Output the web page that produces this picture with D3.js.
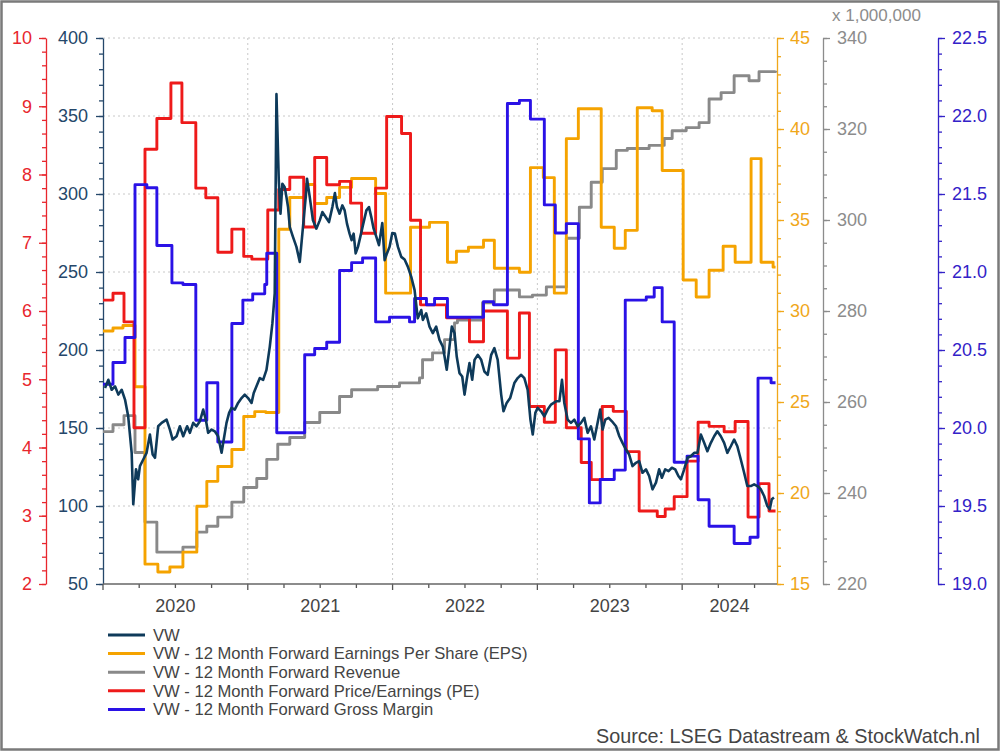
<!DOCTYPE html>
<meta charset="utf-8">
<head>
  <title>VW - 12 month forward estimates</title>
</head>
<script src="https://d3js.org/d3.v7.min.js"></script>
<style>
  body { margin: 0; background: #fff; }
  svg text { font-family: "Liberation Sans", Arial, sans-serif; }
</style>
<div id="chart"></div>
<script>

// ---- data (decimal year, value) ----
var years = [2020, 2021, 2022, 2023, 2024];

var vwPrice = [
  [2020.014,175.6],[2020.037,180.9],[2020.060,174.5],[2020.083,176.7],[2020.106,171.4],[2020.129,174.5],[2020.152,168.2],[2020.174,157.5],
  [2020.198,134.1],[2020.209,101.1],[2020.228,123.5],[2020.243,117.1],[2020.255,125.6],[2020.278,129.8],[2020.301,134.1],[2020.324,145.8],
  [2020.343,133.0],[2020.359,130.9],[2020.381,151.1],[2020.405,153.3],[2020.439,155.4],[2020.462,149.0],[2020.481,142.6],[2020.508,144.7],
  [2020.531,151.1],[2020.554,144.7],[2020.581,151.1],[2020.600,146.9],[2020.623,153.3],[2020.646,151.1],[2020.669,154.3],[2020.692,161.8],
  [2020.710,155.4],[2020.726,146.9],[2020.750,149.0],[2020.772,147.9],[2020.795,144.7],[2020.819,134.1],[2020.834,142.6],[2020.853,153.3],
  [2020.871,159.7],[2020.888,162.9],[2020.910,161.8],[2020.933,166.1],[2020.957,169.2],[2020.979,171.4],[2021.002,169.2],[2021.026,166.1],
  [2021.041,172.4],[2021.060,176.7],[2021.083,182.0],[2021.106,180.9],[2021.129,187.3],[2021.152,202.2],[2021.170,217.2],[2021.186,236.3],
  [2021.198,364.0],[2021.214,308.7],[2021.226,287.4],[2021.239,306.6],[2021.255,304.4],[2021.267,298.0],[2021.278,291.6],[2021.290,278.8],
  [2021.312,272.5],[2021.336,266.1],[2021.359,256.5],[2021.381,278.8],[2021.400,298.0],[2021.409,309.8],[2021.428,298.0],[2021.450,283.1],
  [2021.474,277.8],[2021.497,283.1],[2021.515,288.4],[2021.538,285.2],[2021.561,282.0],[2021.584,291.6],[2021.602,300.6],[2021.616,291.6],
  [2021.634,287.4],[2021.653,292.7],[2021.669,289.5],[2021.685,281.0],[2021.703,274.6],[2021.717,270.4],[2021.731,274.6],[2021.745,261.9],
  [2021.761,266.1],[2021.777,272.5],[2021.795,279.9],[2021.819,289.5],[2021.837,291.6],[2021.853,285.2],[2021.869,277.8],[2021.888,272.5],
  [2021.906,267.2],[2021.929,281.4],[2021.945,257.6],[2021.961,261.9],[2021.979,266.1],[2021.998,275.0],[2022.016,274.6],[2022.037,266.1],
  [2022.060,259.7],[2022.083,258.0],[2022.106,253.3],[2022.129,246.9],[2022.152,238.4],[2022.174,220.3],[2022.198,225.6],[2022.209,219.3],
  [2022.232,223.5],[2022.255,215.0],[2022.278,210.8],[2022.301,215.0],[2022.324,206.5],[2022.347,202.2],[2022.359,195.8],[2022.374,187.3],
  [2022.393,202.2],[2022.409,215.0],[2022.428,210.8],[2022.443,195.8],[2022.462,185.2],[2022.481,183.0],[2022.497,171.4],[2022.512,180.9],
  [2022.531,191.6],[2022.550,180.9],[2022.566,193.7],[2022.588,196.9],[2022.612,193.7],[2022.634,186.2],[2022.657,184.1],[2022.681,196.9],
  [2022.703,201.2],[2022.726,193.7],[2022.750,171.4],[2022.766,160.7],[2022.788,166.1],[2022.812,169.2],[2022.841,178.8],[2022.864,182.0],
  [2022.888,184.1],[2022.910,182.0],[2022.933,174.5],[2022.952,155.4],[2022.968,145.8],[2022.986,159.7],[2023.002,162.9],[2023.026,160.7],
  [2023.048,157.5],[2023.071,161.8],[2023.094,165.0],[2023.129,167.1],[2023.152,167.1],[2023.170,180.9],[2023.186,166.1],[2023.209,155.4],
  [2023.232,153.3],[2023.255,155.4],[2023.278,151.1],[2023.301,153.3],[2023.324,156.5],[2023.347,146.9],[2023.370,151.1],[2023.393,142.6],
  [2023.416,153.3],[2023.434,161.8],[2023.450,149.0],[2023.469,155.4],[2023.492,156.5],[2023.515,154.3],[2023.543,151.1],[2023.566,144.7],
  [2023.588,140.5],[2023.612,136.2],[2023.634,133.0],[2023.657,125.6],[2023.681,127.7],[2023.703,128.8],[2023.726,121.3],[2023.750,123.5],
  [2023.772,119.2],[2023.795,110.7],[2023.819,115.0],[2023.841,123.5],[2023.860,118.1],[2023.883,123.5],[2023.906,122.4],[2023.929,124.5],
  [2023.952,123.5],[2023.974,119.2],[2023.991,117.1],[2024.014,123.5],[2024.037,130.9],[2024.060,131.9],[2024.083,134.1],[2024.106,134.1],
  [2024.129,145.8],[2024.152,140.5],[2024.174,135.1],[2024.198,140.5],[2024.221,144.7],[2024.243,147.9],[2024.267,144.7],[2024.290,140.5],
  [2024.312,134.1],[2024.336,138.3],[2024.359,142.6],[2024.381,138.3],[2024.405,129.8],[2024.428,121.3],[2024.450,112.8],[2024.474,112.8],
  [2024.497,113.9],[2024.519,112.8],[2024.543,110.7],[2024.566,106.4],[2024.588,100.0],[2024.605,97.9],[2024.619,104.3],[2024.634,105.4]
];

// the estimate series move in steps: each pair = start of a level
var epsFwd = [
  [2020.000,28.90],[2020.069,29.07],[2020.138,29.20],[2020.221,25.84],[2020.290,16.09],[2020.379,15.66],[2020.462,15.93],[2020.552,16.75],
  [2020.648,19.27],[2020.717,20.64],[2020.793,21.46],[2020.890,22.39],[2020.972,24.20],[2021.048,24.47],[2021.124,24.42],[2021.214,34.49],
  [2021.290,36.24],[2021.400,36.95],[2021.462,35.91],[2021.545,36.24],[2021.634,36.79],[2021.717,37.28],[2021.883,36.46],[2021.952,30.98],
  [2022.124,34.60],[2022.255,34.87],[2022.379,32.68],[2022.441,33.28],[2022.524,33.50],[2022.628,33.89],[2022.703,32.35],[2022.876,32.13],
  [2022.952,37.88],[2023.041,37.33],[2023.117,30.98],[2023.200,39.47],[2023.283,41.11],[2023.441,34.60],[2023.531,33.45],[2023.607,34.43],
  [2023.690,41.17],[2023.793,41.00],[2023.862,37.72],[2024.007,31.70],[2024.097,30.77],[2024.186,32.24],[2024.283,33.56],[2024.366,32.68],
  [2024.476,38.37],[2024.545,32.68],[2024.628,32.41],[2024.645,32.41]
];

var revenueFwd = [
  [2020.000,253.5],[2020.069,255.0],[2020.145,257.0],[2020.221,248.9],[2020.290,233.6],[2020.372,227.0],[2020.552,228.1],[2020.648,231.4],
  [2020.717,232.7],[2020.793,234.7],[2020.890,238.0],[2020.972,241.2],[2021.062,243.2],[2021.131,247.4],[2021.207,250.7],[2021.290,252.2],
  [2021.393,255.5],[2021.497,257.7],[2021.634,261.2],[2021.717,262.7],[2021.897,263.4],[2022.048,264.2],[2022.186,265.3],[2022.207,269.3],
  [2022.276,270.8],[2022.359,273.7],[2022.428,277.4],[2022.448,278.0],[2022.621,281.8],[2022.703,284.6],[2022.876,283.1],[2022.966,283.5],
  [2023.062,285.3],[2023.200,296.0],[2023.290,302.8],[2023.372,308.3],[2023.448,311.3],[2023.545,315.3],[2023.621,315.7],[2023.772,316.4],
  [2023.876,317.9],[2023.931,319.6],[2024.028,320.3],[2024.117,321.4],[2024.186,326.6],[2024.269,328.0],[2024.359,331.7],[2024.462,330.6],
  [2024.531,332.6],[2024.645,332.8]
];

var peFwd = [
  [2020.000,6.16],[2020.069,6.26],[2020.145,5.84],[2020.214,4.29],[2020.290,8.37],[2020.372,8.82],[2020.469,9.34],[2020.545,8.76],
  [2020.641,7.80],[2020.710,7.66],[2020.793,6.86],[2020.890,7.20],[2020.972,6.80],[2021.028,6.76],[2021.138,7.48],[2021.214,7.78],
  [2021.290,7.96],[2021.386,7.23],[2021.462,8.25],[2021.545,7.85],[2021.634,7.90],[2021.710,7.58],[2021.786,7.14],[2021.883,7.80],
  [2021.959,8.85],[2022.062,8.60],[2022.124,7.33],[2022.193,6.09],[2022.372,5.90],[2022.531,5.55],[2022.628,6.00],[2022.793,5.31],
  [2022.876,5.97],[2022.945,4.60],[2023.048,4.37],[2023.124,5.43],[2023.200,4.29],[2023.303,3.78],[2023.372,3.53],[2023.448,4.60],
  [2023.524,4.53],[2023.614,3.94],[2023.703,3.07],[2023.828,2.99],[2023.883,3.10],[2023.945,3.28],[2024.034,3.80],[2024.110,4.37],
  [2024.186,4.31],[2024.290,4.23],[2024.366,4.38],[2024.455,2.98],[2024.531,3.47],[2024.600,3.07],[2024.645,3.07]
];

var marginFwd = [
  [2020.000,20.28],[2020.069,20.42],[2020.152,20.58],[2020.221,21.56],[2020.303,21.54],[2020.372,21.17],[2020.476,20.93],[2020.552,20.92],
  [2020.641,20.05],[2020.717,20.29],[2020.793,19.91],[2020.890,20.67],[2020.966,20.82],[2021.034,20.86],[2021.117,20.92],[2021.131,21.12],
  [2021.200,19.97],[2021.393,20.47],[2021.462,20.51],[2021.545,20.55],[2021.634,21.01],[2021.717,21.06],[2021.793,21.09],[2021.883,20.68],
  [2021.979,20.71],[2022.117,20.68],[2022.152,20.83],[2022.234,20.79],[2022.290,20.83],[2022.379,20.71],[2022.628,20.81],[2022.697,20.79],
  [2022.793,22.08],[2022.876,22.10],[2022.952,21.98],[2023.048,21.43],[2023.124,21.25],[2023.200,21.31],[2023.283,19.93],[2023.359,19.52],
  [2023.434,19.67],[2023.531,19.73],[2023.607,20.82],[2023.752,20.84],[2023.807,20.90],[2023.862,20.68],[2023.945,19.78],[2024.034,19.82],
  [2024.110,19.54],[2024.186,19.37],[2024.359,19.26],[2024.469,19.30],[2024.524,20.32],[2024.614,20.29],[2024.645,20.29]
];

// tick labels per axis
var peTicks = [2, 3, 4, 5, 6, 7, 8, 9, 10];
var vwTicks = [50, 100, 150, 200, 250, 300, 350, 400];
var epsTicks = [15, 20, 25, 30, 35, 40, 45];
var revTicks = [220, 240, 260, 280, 300, 320, 340];
var gmTicks = [19.0, 19.5, 20.0, 20.5, 21.0, 21.5, 22.0, 22.5];

var legendNames = [
  "VW",
  "VW - 12 Month Forward Earnings Per Share (EPS)",
  "VW - 12 Month Forward Revenue",
  "VW - 12 Month Forward Price/Earnings (PE)",
  "VW - 12 Month Forward Gross Margin"
];

// ---- layout ----
var width = 1000, height = 751;
var plotL = 103, plotR = 777, plotT = 38, plotB = 584;

var colVW = "#0e3a5a", colEPS = "#f5a300", colRev = "#898989", colPE = "#ee1a1a", colGM = "#2a12e6";

var svg = d3.select("#chart").append("svg")
  .attr("width", width)
  .attr("height", height);

svg.append("rect").attr("width", width).attr("height", height).attr("fill", "#fff");

// scales
var x = d3.scaleLinear().domain([2020, 2024.655]).range([plotL, plotR]);
var yVW = d3.scaleLinear().domain([50, 400]).range([plotB, plotT]);
var yPE = d3.scaleLinear().domain([2, 10]).range([plotB, plotT]);
var yEPS = d3.scaleLinear().domain([15, 45]).range([plotB, plotT]);
var yRev = d3.scaleLinear().domain([220, 340]).range([plotB, plotT]);
var yGM = d3.scaleLinear().domain([19, 22.5]).range([plotB, plotT]);

// gridlines (dotted)
svg.append("g")
  .selectAll("line")
  .data(vwTicks.slice(1))
  .enter().append("line")
    .attr("x1", plotL).attr("x2", plotR)
    .attr("y1", function(d) { return yVW(d); })
    .attr("y2", function(d) { return yVW(d); })
    .attr("stroke", "#c8c8c8")
    .attr("stroke-dasharray", "2,3");

svg.append("g")
  .selectAll("line")
  .data(years.slice(1))
  .enter().append("line")
    .attr("x1", function(d) { return x(d); })
    .attr("x2", function(d) { return x(d); })
    .attr("y1", plotT).attr("y2", plotB)
    .attr("stroke", "#c8c8c8")
    .attr("stroke-dasharray", "2,3");

// y axis helper: major ticks with labels + minor ticks
function yAxis(scale, pos, side, color, ticks, minorStep, fmt, pad) {
  var axisFn = side == "left" ? d3.axisLeft : d3.axisRight;
  var g = svg.append("g")
    .attr("transform", "translate(" + pos + ",0)")
    .attr("color", color);
  var d0 = scale.domain()[0], d1 = scale.domain()[1];
  var minor = d3.range(0, Math.round((d1 - d0) / minorStep) + 1).map(function(i) { return d0 + i * minorStep; });
  g.append("g")
    .call(axisFn(scale).tickValues(minor).tickSize(4).tickSizeOuter(0).tickFormat(""))
    .select(".domain").remove();
  g.append("g")
    .call(axisFn(scale).tickValues(ticks).tickSize(7).tickSizeOuter(0).tickPadding(pad).tickFormat(fmt))
    .attr("font-size", 18)
    .attr("font-family", "Liberation Sans, Arial, sans-serif");
  g.selectAll("line, path").attr("stroke-width", 1.3);
}

yAxis(yPE, 46, "left", "#e8262d", peTicks, 0.2, d3.format("d"), 7);
yAxis(yVW, plotL, "left", "#25476a", vwTicks, 10, d3.format("d"), 8);
yAxis(yEPS, plotR, "right", "#f0a71a", epsTicks, 1, d3.format("d"), 6);
yAxis(yRev, 823, "right", "#8c8c8c", revTicks, 5, d3.format("d"), 7);
yAxis(yGM, 938, "right", "#3322c8", gmTicks, 0.1, d3.format(".1f"), 7);

svg.append("text")
  .attr("x", 832).attr("y", 21)
  .attr("fill", "#8c8c8c")
  .style("font-size", "17px")
  .text("x 1,000,000");

// bottom time axis
var xAxisG = svg.append("g");
var quarters = d3.range(0, 19).map(function(i) { return 2020 + i * 0.25; });
xAxisG.selectAll("line.q")
  .data(quarters)
  .enter().append("line")
    .attr("x1", function(d) { return x(d); })
    .attr("x2", function(d) { return x(d); })
    .attr("y1", plotB)
    .attr("y2", function(d) { return d % 1 == 0 ? plotB + 6 : plotB + 4; })
    .attr("stroke", "#555")
    .attr("stroke-width", 1.3);
xAxisG.append("line")
  .attr("x1", plotL).attr("x2", plotR)
  .attr("y1", plotB).attr("y2", plotB)
  .attr("stroke", "#666").attr("stroke-width", 1.5);
xAxisG.selectAll("text")
  .data(years)
  .enter().append("text")
    .attr("x", function(d) {
      var a = x(Math.max(d, x.domain()[0])), b = x(Math.min(d + 1, x.domain()[1]));
      return (a + b) / 2;
    })
    .attr("y", 612)
    .attr("text-anchor", "middle")
    .attr("fill", "#444")
    .style("font-size", "18px")
    .text(function(d) { return d; });

// ---- lines ----
function stepLine(data, yScale, color) {
  svg.append("path")
    .datum(data)
    .attr("fill", "none")
    .attr("stroke", color)
    .attr("stroke-width", 2.9)
    .attr("stroke-linejoin", "round")
    .attr("d", d3.line()
      .curve(d3.curveStepAfter)
      .x(function(d) { return x(d[0]); })
      .y(function(d) { return yScale(d[1]); }));
}

stepLine(revenueFwd, yRev, colRev);
stepLine(epsFwd, yEPS, colEPS);
stepLine(peFwd, yPE, colPE);
stepLine(marginFwd, yGM, colGM);

svg.append("path")
  .datum(vwPrice)
  .attr("fill", "none")
  .attr("stroke", colVW)
  .attr("stroke-width", 2.6)
  .attr("stroke-linejoin", "round")
  .attr("d", d3.line()
    .x(function(d) { return x(d[0]); })
    .y(function(d) { return yVW(d[1]); }));

// ---- legend ----
var legendColors = [colVW, colEPS, colRev, colPE, colGM];
var legend = svg.append("g")
  .selectAll("g")
  .data(legendNames)
  .enter().append("g")
    .attr("transform", function(d, i) { return "translate(108," + (635 + i * 18.6) + ")"; });
legend.append("line")
  .attr("x1", 0).attr("x2", 37)
  .attr("stroke", function(d, i) { return legendColors[i]; })
  .attr("stroke-width", 3);
legend.append("text")
  .attr("x", 45).attr("dy", "0.35em")
  .attr("fill", "#444")
  .style("font-size", "16.6px")
  .text(function(d) { return d; });

svg.append("text")
  .attr("x", 980).attr("y", 743)
  .attr("text-anchor", "end")
  .attr("fill", "#444")
  .style("font-size", "19.8px")
  .text("Source: LSEG Datastream & StockWatch.nl");

// frame
svg.append("rect")
  .attr("x", 1.5).attr("y", 1.5)
  .attr("width", width - 3).attr("height", height - 3)
  .attr("fill", "none")
  .attr("stroke", "#7a7a7a")
  .attr("stroke-width", 2.5);

</script>
